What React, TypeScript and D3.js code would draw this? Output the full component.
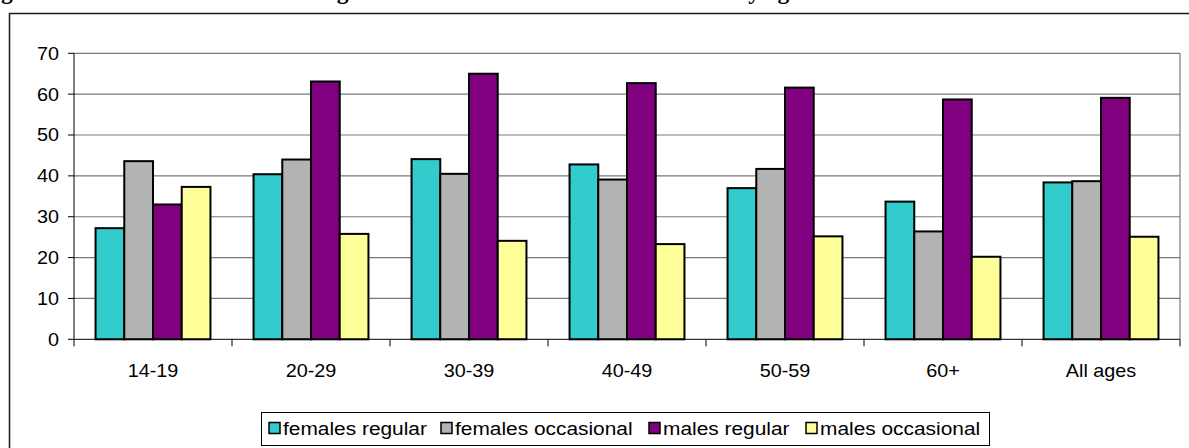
import React from "react";
import * as d3 from "d3";

// Age groups along the x axis
const ageGroups = ["14-19", "20-29", "30-39", "40-49", "50-59", "60+", "All ages"];

// Series names (legend order)
const seriesNames = ["females regular", "females occasional", "males regular", "males occasional"];

// Percentages per age group
const femalesRegular = [27.2, 40.4, 44.1, 42.8, 37.0, 33.7, 38.4];
const femalesOccasional = [43.6, 44.0, 40.5, 39.1, 41.7, 26.4, 38.7];
const malesRegular = [33.0, 63.1, 65.0, 62.7, 61.6, 58.7, 59.1];
const malesOccasional = [37.3, 25.8, 24.1, 23.3, 25.2, 20.2, 25.1];

const yTicks = [0, 10, 20, 30, 40, 50, 60, 70];

const titleText =
  "Figure 6: Total alcohol intake amongst males and females in the last month by age";

const seriesValues = [femalesRegular, femalesOccasional, malesRegular, malesOccasional];
const seriesColors = ["#33CCCC", "#B3B3B3", "#800080", "#FFFF99"];

const W = 1189;
const H = 448;
const plot = { left: 74, right: 1180, top: 53.3, bottom: 339.3 };
const FONT = "'Liberation Sans', Arial, sans-serif";

export default function App() {
  const x0 = d3.scaleBand<string>().domain(ageGroups).range([plot.left, plot.right]).padding(0);
  const barW = x0.bandwidth() / 5.5;
  const x1 = d3
    .scaleBand<string>()
    .domain(seriesNames)
    .range([0.75 * barW, 4.75 * barW])
    .padding(0);
  const y = d3.scaleLinear().domain([0, 70]).range([plot.bottom, plot.top]);

  const boundaries = ageGroups.map((g) => x0(g) as number).concat([plot.right]);

  // legend item anchors
  const legendX = [269, 441, 649, 806];

  const stretchedText = (
    key: string,
    x: number,
    yy: number,
    label: string,
    anchor: "start" | "middle" | "end",
    size: number,
    stretch: number,
    dy = "0"
  ) => (
    <text
      key={key}
      transform={`translate(${x},${yy}) scale(${stretch},1)`}
      textAnchor={anchor}
      dy={dy}
      fontFamily={FONT}
      fontSize={size}
      fill="#000"
    >
      {label}
    </text>
  );

  return (
    <svg
      width={W}
      height={H}
      style={{ position: "absolute", left: 0, top: 0, display: "block", background: "#fff" }}
    >
      <rect x={0} y={0} width={W} height={H} fill="#fff" />

      {/* figure caption, running above the frame */}
      <text
        x={-19.8}
        y={-1.5}
        fontFamily="'Liberation Serif', 'Times New Roman', serif"
        fontWeight="bold"
        fontSize={23.5}
        fill="#000"
      >
        {titleText}
      </text>

      {/* chart frame */}
      <rect x={9.5} y={13.5} width={1400} height={600} fill="none" stroke="#1a1a1a" strokeWidth={1.5} />

      {/* gridlines */}
      {yTicks
        .filter((t) => t > 0)
        .map((t) => (
          <line
            key={`g${t}`}
            x1={plot.left}
            x2={plot.right}
            y1={y(t)}
            y2={y(t)}
            stroke="#7a7a7a"
            strokeWidth={1.2}
          />
        ))}
      <line x1={plot.right} x2={plot.right} y1={y(70)} y2={y(0)} stroke="#7a7a7a" strokeWidth={1.2} />

      {/* bars */}
      {ageGroups.map((g, gi) =>
        seriesNames.map((s, si) => {
          const v = seriesValues[si][gi];
          return (
            <rect
              key={`${g}-${s}`}
              x={(x0(g) as number) + (x1(s) as number)}
              y={y(v)}
              width={x1.bandwidth()}
              height={y(0) - y(v)}
              fill={seriesColors[si]}
              stroke="#000"
              strokeWidth={2}
            />
          );
        })
      )}

      {/* y axis */}
      <line x1={plot.left} x2={plot.left} y1={y(70)} y2={y(0)} stroke="#000" strokeWidth={1} />
      {yTicks.map((t) => (
        <g key={`yt${t}`}>
          <line x1={plot.left - 6} x2={plot.left} y1={y(t)} y2={y(t)} stroke="#000" strokeWidth={1} />
          {stretchedText(`yl${t}`, plot.left - 15, y(t), String(t), "end", 18, 1.1, "0.36em")}
        </g>
      ))}

      {/* x axis */}
      <line x1={plot.left} x2={plot.right} y1={y(0)} y2={y(0)} stroke="#000" strokeWidth={1} />
      {boundaries.map((bx, i) => (
        <line key={`xt${i}`} x1={bx} x2={bx} y1={y(0)} y2={y(0) + 7} stroke="#000" strokeWidth={1} />
      ))}
      {ageGroups.map((g) =>
        stretchedText(`xl${g}`, (x0(g) as number) + x0.bandwidth() / 2, 377, g, "middle", 18, 1.1)
      )}

      {/* legend */}
      <rect x={261.5} y={412.5} width={728} height={33} fill="#fff" stroke="#000" strokeWidth={1} />
      {seriesNames.map((s, i) => (
        <g key={`lg${s}`}>
          <rect
            x={legendX[i]}
            y={422.5}
            width={11}
            height={11}
            fill={seriesColors[i]}
            stroke="#000"
            strokeWidth={1.5}
          />
          {stretchedText(`lt${s}`, legendX[i] + 14, 434.5, s, "start", 18.5, 1.13)}
        </g>
      ))}
    </svg>
  );
}
